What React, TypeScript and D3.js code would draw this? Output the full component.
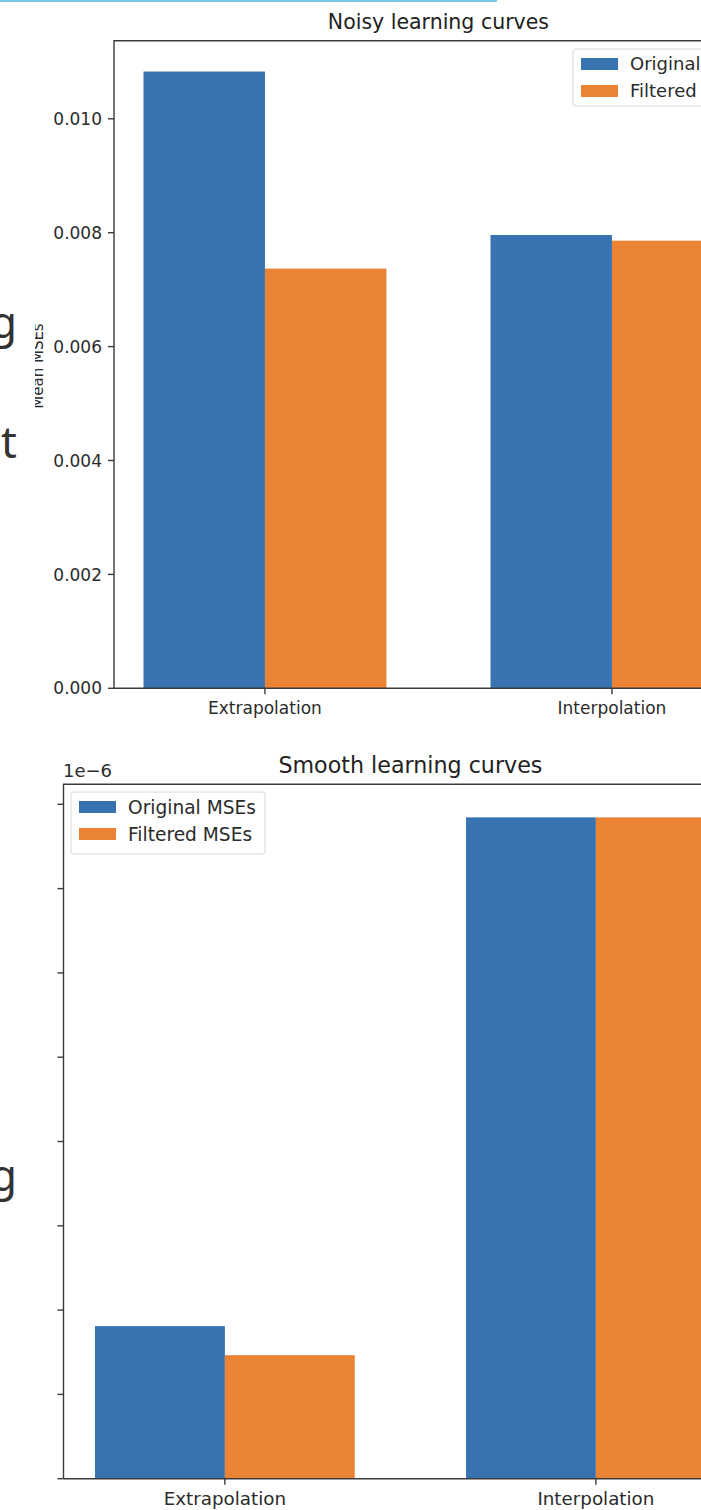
import React, { useRef, useEffect } from 'react';
import * as d3 from 'd3';

// data
const categories = ['Extrapolation', 'Interpolation'];
const seriesNames = ['Original MSEs', 'Filtered MSEs'];
const noisyOriginal = [0.01083, 0.00796];
const noisyFiltered = [0.00737, 0.00786];
const smoothOriginal = [0.362e-6, 1.569e-6];
const smoothFiltered = [0.293e-6, 1.569e-6];
const noisyTicks = [0, 0.002, 0.004, 0.006, 0.008, 0.01];
const noisyTickLabels = ['0.000', '0.002', '0.004', '0.006', '0.008', '0.010'];
const smoothTicks = [0, 0.2e-6, 0.4e-6, 0.6e-6, 0.8e-6, 1.0e-6, 1.2e-6, 1.4e-6, 1.6e-6];

const colors = ['#3673b0', '#eb8334'];
const font = 'DejaVu Sans, sans-serif';

function drawPanel(svg, opt) {
  const g = svg.append('g');
  const x = d3.scaleLinear().domain([-0.435, 1.435]).range([opt.left, opt.left + 1.87 * opt.unit]);
  const y = d3.scaleLinear().domain([0, d3.max(opt.series.flat()) * 1.05]).range([opt.bottom, opt.top]);
  const w = 0.35;

  // bars
  opt.series.forEach((vals, si) => {
    g.selectAll('.bar' + si)
      .data(vals)
      .enter()
      .append('rect')
      .attr('x', (d, i) => x(i + (si === 0 ? -w : 0)))
      .attr('width', x(w) - x(0))
      .attr('y', d => y(d))
      .attr('height', d => y(0) - y(d))
      .attr('fill', colors[si]);
  });

  // frame
  const right = x(1.435);
  g.append('path')
    .attr('d', `M${opt.left},${opt.bottom}V${opt.top}H${right}M${opt.left},${opt.bottom}H${right}`)
    .attr('fill', 'none')
    .attr('stroke', '#3a3a3a')
    .attr('stroke-width', 1.4);

  // y ticks
  const yt = g.selectAll('.yt').data(opt.yTicks).enter().append('g');
  yt.append('line')
    .attr('x1', opt.left - 6).attr('x2', opt.left)
    .attr('y1', d => y(d)).attr('y2', d => y(d))
    .attr('stroke', '#3a3a3a').attr('stroke-width', 1.4);
  if (opt.yLabels) {
    yt.append('text')
      .attr('x', opt.left - 12)
      .attr('y', d => y(d))
      .attr('dy', '0.36em')
      .attr('text-anchor', 'end')
      .attr('font-size', opt.tickSize)
      .attr('fill', '#2b2b2b')
      .text((d, i) => opt.yLabels[i]);
  }

  // x ticks
  const xt = g.selectAll('.xt').data(categories).enter().append('g');
  xt.append('line')
    .attr('x1', (d, i) => x(i)).attr('x2', (d, i) => x(i))
    .attr('y1', opt.bottom).attr('y2', opt.bottom + 6)
    .attr('stroke', '#3a3a3a').attr('stroke-width', 1.4);
  xt.append('text')
    .attr('x', (d, i) => x(i))
    .attr('y', opt.bottom + 26)
    .attr('text-anchor', 'middle')
    .attr('font-size', opt.tickSize)
    .attr('fill', '#2b2b2b')
    .text(d => d);

  // title
  g.append('text')
    .attr('x', opt.left + (right - opt.left) / 2)
    .attr('y', opt.titleY)
    .attr('text-anchor', 'middle')
    .attr('font-size', opt.titleSize)
    .attr('fill', '#222')
    .text(opt.title);

  // legend
  const lg = g.append('g');
  lg.append('rect')
    .attr('x', opt.legend.x).attr('y', opt.legend.y)
    .attr('width', opt.legend.w).attr('height', opt.legend.h)
    .attr('rx', 3)
    .attr('fill', 'white')
    .attr('stroke', '#d8d8d8');
  seriesNames.forEach((name, i) => {
    const cy = opt.legend.y + 15 + i * 27;
    lg.append('rect')
      .attr('x', opt.legend.x + 8).attr('y', cy - 6)
      .attr('width', 37).attr('height', 12)
      .attr('fill', colors[i]);
    lg.append('text')
      .attr('x', opt.legend.x + 57)
      .attr('y', cy)
      .attr('dy', '0.36em')
      .attr('font-size', opt.legendSize)
      .attr('fill', '#2b2b2b')
      .text(name);
  });
  return g;
}

export default function App() {
  const ref = useRef(null);

  useEffect(() => {
    const svg = d3.select(ref.current);
    svg.selectAll('*').remove();
    svg.attr('font-family', font);

    svg.append('rect').attr('width', 701).attr('height', 1510).attr('fill', 'white');
    // cyan rule at the top of the page
    svg.append('rect').attr('x', 0).attr('y', 0).attr('width', 497).attr('height', 2).attr('fill', '#7cc8e4');

    drawPanel(svg, {
      series: [noisyOriginal, noisyFiltered],
      left: 114, unit: 347, top: 40.7, bottom: 688.3,
      yTicks: noisyTicks, yLabels: noisyTickLabels,
      title: 'Noisy learning curves', titleY: 29,
      tickSize: 17, titleSize: 20.5, legendSize: 18,
      legend: { x: 573, y: 49, w: 200, h: 57 }
    });

    drawPanel(svg, {
      series: [smoothOriginal, smoothFiltered],
      left: 63.5, unit: 371, top: 784.3, bottom: 1478.7,
      yTicks: smoothTicks, yLabels: null,
      title: 'Smooth learning curves', titleY: 773,
      tickSize: 18.3, titleSize: 22.2, legendSize: 18.6,
      legend: { x: 71, y: 792, w: 194, h: 62 }
    });

    svg.append('text')
      .attr('x', 63).attr('y', 777)
      .attr('font-size', 18).attr('fill', '#2b2b2b')
      .text('1e\u22126');

    // y axis label of the top chart, half hidden behind the page text column
    svg.append('defs').append('clipPath').attr('id', 'ylab')
      .append('rect').attr('x', 35).attr('y', 250).attr('width', 30).attr('height', 250);
    svg.append('g')
      .attr('clip-path', 'url(#ylab)')
      .append('text')
      .attr('transform', 'translate(43,366) rotate(-90)')
      .attr('text-anchor', 'middle')
      .attr('font-size', 15)
      .attr('fill', '#2b2b2b')
      .text('Mean MSEs');

    // letters of the surrounding document cut at the left edge
    const doc = [{ t: 'g', y: 338 }, { t: 't', y: 458 }, { t: 'g', y: 1191 }];
    svg.selectAll('.doc').data(doc).enter().append('text')
      .attr('x', 17).attr('y', d => d.y)
      .attr('text-anchor', 'end')
      .attr('font-family', 'Noto Sans, sans-serif')
      .attr('font-size', 44)
      .attr('fill', '#333')
      .text(d => d.t);
  }, []);

  return (
    <svg ref={ref} width={701} height={1510} style={{ position: 'absolute', left: 0, top: 0 }} />
  );
}
